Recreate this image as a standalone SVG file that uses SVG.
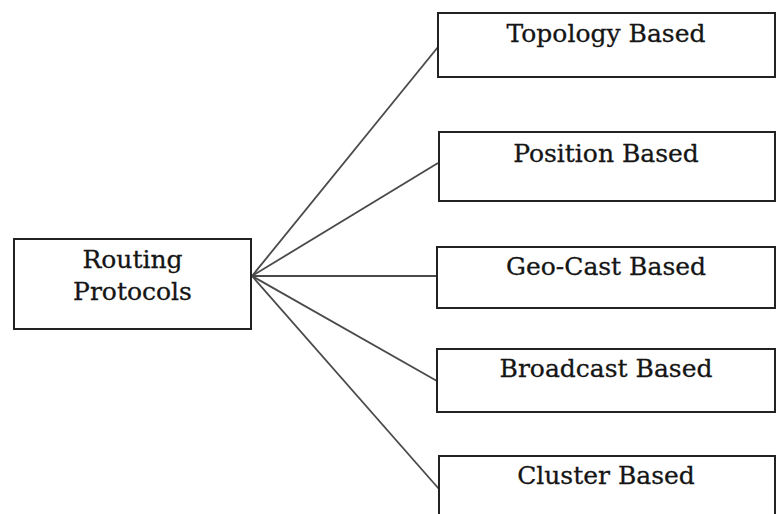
<svg xmlns="http://www.w3.org/2000/svg" width="776" height="514" viewBox="0 0 776 514">
  <style>
    .box { fill: #ffffff; stroke: #222222; stroke-width: 2; }
    .lbl { font-family: "DejaVu Serif", "Liberation Serif", serif; font-size: 25px; fill: #151515; stroke: #151515; stroke-width: 0.3; text-anchor: middle; }
    .link { stroke: #4a4a4a; stroke-width: 1.8; fill: none; }
  </style>
  <rect width="776" height="514" fill="#ffffff"/>

  <!-- connectors fanning out from the root node -->
  <g id="connectors">
    <line class="link" x1="252" y1="276" x2="438" y2="47"/>
    <line class="link" x1="252" y1="276" x2="438" y2="163"/>
    <line class="link" x1="252" y1="276" x2="437" y2="276"/>
    <line class="link" x1="252" y1="276" x2="437" y2="381"/>
    <line class="link" x1="252" y1="276" x2="439" y2="489"/>
  </g>

  <g id="routing-protocols">
    <rect class="box" x="14" y="239" width="237" height="90"/>
    <text class="lbl" x="132.5" y="268">Routing</text>
    <text class="lbl" x="132.5" y="300">Protocols</text>
  </g>

  <g id="topology-based">
    <rect class="box" x="438" y="13" width="337" height="64"/>
    <text class="lbl" x="606" y="42">Topology Based</text>
  </g>

  <g id="position-based">
    <rect class="box" x="439" y="132" width="336" height="69"/>
    <text class="lbl" x="606" y="162">Position Based</text>
  </g>

  <g id="geo-cast-based">
    <rect class="box" x="437" y="247" width="338" height="61"/>
    <text class="lbl" x="606" y="275">Geo-Cast Based</text>
  </g>

  <g id="broadcast-based">
    <rect class="box" x="437" y="349" width="338" height="63"/>
    <text class="lbl" x="606" y="377">Broadcast Based</text>
  </g>

  <g id="cluster-based">
    <rect class="box" x="439" y="456" width="336" height="70"/>
    <text class="lbl" x="606" y="484">Cluster Based</text>
  </g>
</svg>
